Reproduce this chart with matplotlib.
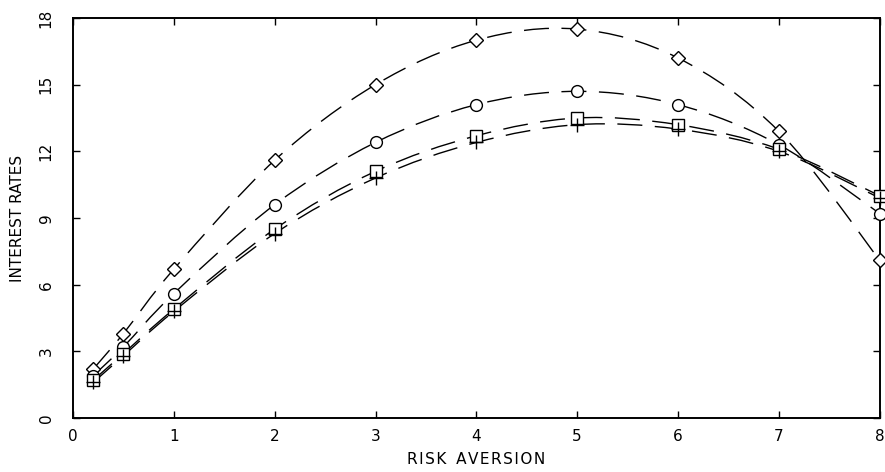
import numpy as np
import matplotlib
matplotlib.use('Agg')
import matplotlib.pyplot as plt
from matplotlib.path import Path
from matplotlib.patches import PathPatch

plt.rcParams.update({'font.family': 'DejaVu Sans', 'font.size': 10})

# risk aversion grid and interest rates for the four series
risk = [0.2, 0.5, 1, 2, 3, 4, 5, 6, 7, 8]
rate_diamond = [2.2, 3.8, 6.7, 11.6, 15.0, 17.0, 17.5, 16.2, 12.9, 7.1]
rate_circle = [1.9, 3.2, 5.6, 9.6, 12.4, 14.1, 14.7, 14.1, 12.3, 9.2]
rate_square = [1.7, 2.9, 4.9, 8.5, 11.1, 12.7, 13.5, 13.2, 12.1, 10.0]
rate_plus = [1.6, 2.8, 4.8, 8.3, 10.8, 12.4, 13.2, 13.0, 12.0, 9.9]
xticks = [0, 1, 2, 3, 4, 5, 6, 7, 8]
yticks = [0, 3, 6, 9, 12, 15, 18]


def smooth_path(x, y):
    # Catmull-Rom through the data, expressed as cubic Bezier segments
    x = np.asarray(x, float); y = np.asarray(y, float)
    verts = [(x[0], y[0])]; codes = [Path.MOVETO]
    n = len(x)
    for i in range(n - 1):
        i0 = max(i - 1, 0); i3 = min(i + 2, n - 1)
        c1 = (x[i] + (x[i + 1] - x[i0]) / 6, y[i] + (y[i + 1] - y[i0]) / 6)
        c2 = (x[i + 1] - (x[i3] - x[i]) / 6, y[i + 1] - (y[i3] - y[i]) / 6)
        verts += [c1, c2, (x[i + 1], y[i + 1])]
        codes += [Path.CURVE4] * 3
    return Path(verts, codes)


fig = plt.figure(figsize=(8.85, 4.72), dpi=100)
ax = fig.add_axes([0.0825, 0.1144, 0.9115, 0.8475])

series = [(rate_diamond, 'D', 7), (rate_circle, 'o', 8.5), (rate_square, 's', 8), (rate_plus, '+', 10)]
for ys, mk, ms in series:
    ax.add_patch(PathPatch(smooth_path(risk, ys), fill=False, lw=1.0, color='black',
                           linestyle=(0, (18, 9)), clip_on=False))
    ax.plot(risk, ys, linestyle='none', marker=mk, ms=ms, mfc='white' if mk != '+' else 'black',
            mec='black', mew=1.0, clip_on=False, zorder=5)

ax.set_xlim(0, 8); ax.set_ylim(0, 18)
ax.set_xticks(xticks); ax.set_yticks(yticks)
ax.tick_params(direction='in', top=True, right=True, length=5, width=1, labelsize=11)
ax.tick_params(axis='x', pad=8)
ax.tick_params(axis='y', pad=14)
for lab in ax.get_yticklabels():
    lab.set_rotation(90); lab.set_va('center')
for s in ax.spines.values():
    s.set_linewidth(1.4)
ax.set_xlabel('R\u200aI\u200aS\u200aK  A\u200aV\u200aE\u200aR\u200aS\u200aI\u200aO\u200aN',
              fontsize=11, labelpad=6)
ax.set_ylabel('INTEREST RATES', fontsize=11, labelpad=10)

fig.savefig('out.png', dpi=100)
